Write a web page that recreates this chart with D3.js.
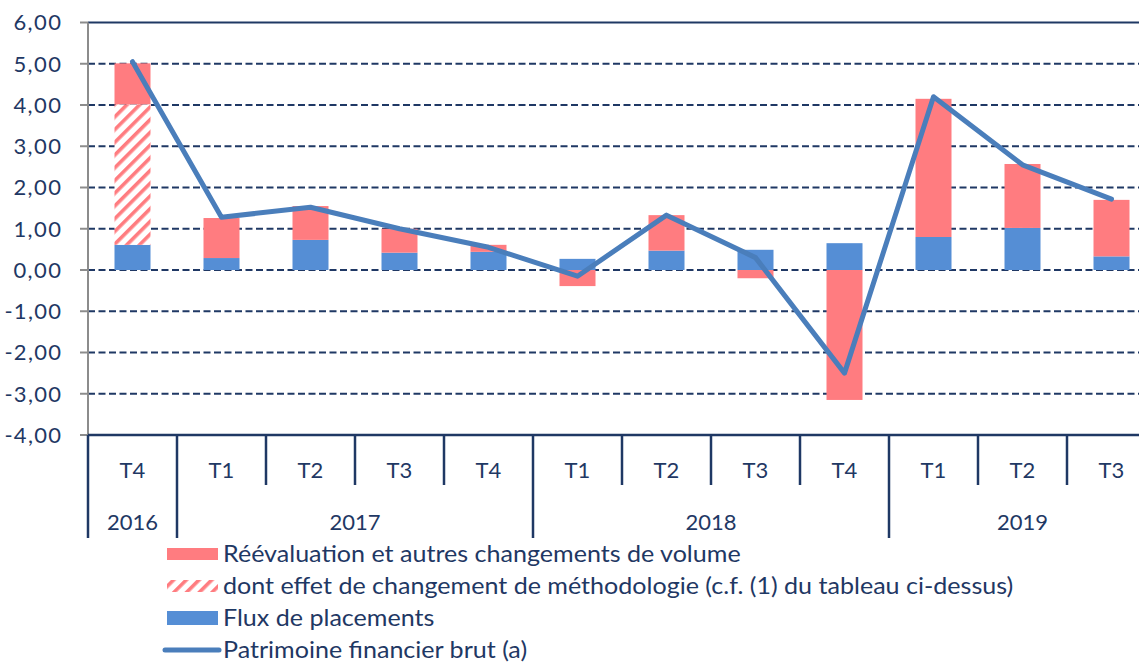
<!DOCTYPE html>
<html>
<head>
<meta charset="utf-8">
<script src="https://cdn.jsdelivr.net/npm/d3@7"></script>
<style>
  html, body { margin: 0; padding: 0; background: #fff; overflow: hidden; }
  svg { display: block; font-family: Lato, "Open Sans", sans-serif; }
</style>
</head>
<body>
<div id="viz_div"></div>
<script>
// DATA
// ---------------------------------------------------------------------------------------------
const quarters = ["T4", "T1", "T2", "T3", "T4", "T1", "T2", "T3", "T4", "T1", "T2", "T3"];
const years = ["2016", "2017", "2017", "2017", "2017", "2018", "2018", "2018", "2018", "2019", "2019", "2019"];
const flux = [0.61, 0.29, 0.73, 0.42, 0.44, 0.27, 0.47, 0.49, 0.65, 0.80, 1.02, 0.33];
const reeval = [4.40, 0.97, 0.82, 0.58, 0.17, -0.39, 0.86, -0.20, -3.15, 3.35, 1.55, 1.37];
const methodo = [3.40, 0, 0, 0, 0, 0, 0, 0, 0, 0, 0, 0];
const patrimoine = [5.05, 1.28, 1.52, 1.00, 0.55, -0.15, 1.33, 0.30, -2.50, 4.20, 2.55, 1.72];
const yTicks = [-4, -3, -2, -1, 0, 1, 2, 3, 4, 5, 6];
const legendLabels = [
    "Réévaluation et autres changements de volume",
    "dont effet de changement de méthodologie (c.f. (1) du tableau ci-dessus)",
    "Flux de placements",
    "Patrimoine financier brut (a)"
];

// SETUP
// ---------------------------------------------------------------------------------------------
const W = 1139, H = 665;
const navy = "#1f3864", red = "#ff7c80", blue = "#558ed5", lineCol = "#4a7ebb";
const pLeft = 88, pRight = 1156, pTop = 22.5, pBottom = 435;
const barW = 36;

const svg = d3.select("#viz_div").append("svg")
    .attr("width", W).attr("height", H);

const defs = svg.append("defs");
const pat = defs.append("pattern")
    .attr("id", "hatch")
    .attr("patternUnits", "userSpaceOnUse")
    .attr("width", 9).attr("height", 9)
    .attr("patternTransform", "rotate(45)");
pat.append("rect").attr("width", 9).attr("height", 9).attr("fill", "#fff");
pat.append("rect").attr("x", 0).attr("width", 3.6).attr("height", 9).attr("fill", red);

const idx = d3.range(quarters.length);
const x = d3.scaleBand().domain(idx).range([pLeft, pRight]);
const y = d3.scaleLinear().domain([-4, 6]).range([pBottom, pTop]);

// GRID
// ---------------------------------------------------------------------------------------------
svg.append("g").selectAll("line")
    .data(yTicks.filter(d => d > -4 && d < 6))
    .join("line")
    .attr("x1", pLeft).attr("x2", W)
    .attr("y1", d => y(d)).attr("y2", d => y(d))
    .attr("stroke", navy).attr("stroke-width", 2)
    .attr("stroke-dasharray", "7,3.5");

svg.append("line")
    .attr("x1", pLeft).attr("x2", W)
    .attr("y1", y(6)).attr("y2", y(6))
    .attr("stroke", navy).attr("stroke-width", 2);

// BARS
// ---------------------------------------------------------------------------------------------
const bars = svg.append("g");
const bx = i => x(i) + x.bandwidth() / 2 - barW / 2;

bars.selectAll(".flux").data(idx).join("rect")
    .attr("class", "flux")
    .attr("x", bx).attr("width", barW)
    .attr("y", i => y(Math.max(0, flux[i])))
    .attr("height", i => Math.abs(y(0) - y(flux[i])))
    .attr("fill", blue);

bars.selectAll(".reeval").data(idx).join("rect")
    .attr("class", "reeval")
    .attr("x", bx).attr("width", barW)
    .attr("y", i => reeval[i] >= 0 ? y(flux[i] + reeval[i]) : y(0))
    .attr("height", i => reeval[i] >= 0
        ? y(flux[i] + methodo[i]) - y(flux[i] + reeval[i])
        : y(reeval[i]) - y(0))
    .attr("fill", red);

bars.selectAll(".methodo").data(idx.filter(i => methodo[i] !== 0)).join("rect")
    .attr("class", "methodo")
    .attr("x", bx).attr("width", barW)
    .attr("y", i => y(flux[i] + methodo[i]))
    .attr("height", i => y(flux[i]) - y(flux[i] + methodo[i]))
    .attr("fill", "url(#hatch)");

// LINE
// ---------------------------------------------------------------------------------------------
svg.append("path")
    .datum(idx)
    .attr("fill", "none")
    .attr("stroke", lineCol)
    .attr("stroke-width", 5)
    .attr("stroke-linejoin", "round")
    .attr("stroke-linecap", "round")
    .attr("d", d3.line()
        .x(i => x(i) + x.bandwidth() / 2)
        .y(i => y(patrimoine[i])));

// Y AXIS
// ---------------------------------------------------------------------------------------------
svg.append("line")
    .attr("x1", pLeft).attr("x2", pLeft)
    .attr("y1", y(6)).attr("y2", pBottom)
    .attr("stroke", "#8c8c8c").attr("stroke-width", 2);

svg.append("g").selectAll("line")
    .data(yTicks).join("line")
    .attr("x1", pLeft - 8).attr("x2", pLeft)
    .attr("y1", d => y(d)).attr("y2", d => y(d))
    .attr("stroke", "#8c8c8c").attr("stroke-width", 2);

svg.append("g").selectAll("text")
    .data(yTicks).join("text")
    .attr("x", 61).attr("y", d => y(d))
    .attr("dy", "0.36em")
    .attr("text-anchor", "end")
    .attr("fill", navy)
    .style("font-size", "22px")
    .text(d => d3.format(".2f")(d).replace(".", ",").replace("−", "-"))
    .each(function () { this.setAttribute("textLength", this.getComputedTextLength() * 1.1); });

// X AXIS (multi-level)
// ---------------------------------------------------------------------------------------------
svg.append("line")
    .attr("x1", pLeft).attr("x2", W)
    .attr("y1", pBottom).attr("y2", pBottom)
    .attr("stroke", navy).attr("stroke-width", 2.5);

const yearStart = idx.filter(i => i === 0 || years[i] !== years[i - 1]);
svg.append("g").selectAll("line")
    .data(idx.concat([quarters.length]))
    .join("line")
    .attr("x1", i => x(i) ?? pRight).attr("x2", i => x(i) ?? pRight)
    .attr("y1", pBottom)
    .attr("y2", i => yearStart.includes(i) || i === quarters.length ? 538 : 485)
    .attr("stroke", navy).attr("stroke-width", 2.5);

svg.append("g").selectAll("text")
    .data(idx).join("text")
    .attr("x", i => x(i) + x.bandwidth() / 2)
    .attr("y", 470).attr("dy", "0.36em")
    .attr("text-anchor", "middle")
    .attr("fill", navy)
    .style("font-size", "22px")
    .text(i => quarters[i]);

svg.append("g").selectAll("text")
    .data(yearStart).join("text")
    .attr("x", s => {
        const e = idx.filter(i => years[i] === years[s]);
        return (x(e[0]) + x(e[e.length - 1]) + x.bandwidth()) / 2;
    })
    .attr("y", 522).attr("dy", "0.36em")
    .attr("text-anchor", "middle")
    .attr("fill", navy)
    .style("font-size", "22px")
    .text(s => years[s]);

// LEGEND
// ---------------------------------------------------------------------------------------------
const leg = svg.append("g");
const rowY = [554, 586, 618, 650];
leg.append("rect").attr("x", 167).attr("y", rowY[0] - 6).attr("width", 51).attr("height", 12).attr("fill", red);
leg.append("rect").attr("x", 167).attr("y", rowY[1] - 6).attr("width", 51).attr("height", 12).attr("fill", "url(#hatch)");
leg.append("rect").attr("x", 167).attr("y", rowY[2] - 7).attr("width", 51).attr("height", 14).attr("fill", blue);
leg.append("line").attr("x1", 165).attr("x2", 219).attr("y1", rowY[3]).attr("y2", rowY[3])
    .attr("stroke", lineCol).attr("stroke-width", 5).attr("stroke-linecap", "round");

leg.selectAll("text").data(legendLabels).join("text")
    .attr("x", 223)
    .attr("y", (d, i) => rowY[i]).attr("dy", "0.33em")
    .attr("fill", navy)
    .style("font-size", "23px")
    .attr("lengthAdjust", "spacingAndGlyphs")
    .text(d => d)
    .each(function () { this.setAttribute("textLength", this.getComputedTextLength() * 1.09); });
</script>
</body>
</html>
